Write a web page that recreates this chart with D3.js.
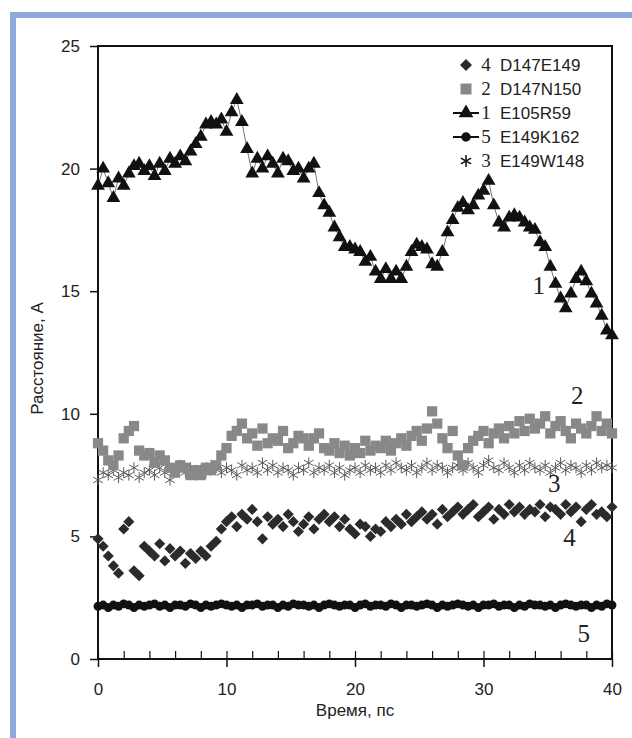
<!DOCTYPE html>
<html>
<head>
<meta charset="utf-8">
<script src="https://cdn.jsdelivr.net/npm/d3@7"></script>
<style>
  body { margin: 0; background: #fff; }
  svg { display: block; }
  .tick-label { font-family: "Liberation Sans", Arial, sans-serif; font-size: 17px; fill: #222; }
  .axis-title { font-family: "Liberation Sans", Arial, sans-serif; font-size: 17px; fill: #222; }
  .num { font-family: "Liberation Serif", "Times New Roman", serif; fill: #222; }
</style>
</head>
<body>
<svg id="chart" width="632" height="738"></svg>
<script>
// distance (A) sampled every 0.4 ps from 0 to 40
const timeStart = 0;
const timeEnd = 40;

const e105r59 = [
  19.3, 20.0, 19.4, 18.8, 19.6, 19.3, 19.8, 20.1, 20.2, 19.9,
  20.1, 19.7, 20.2, 19.9, 20.4, 20.2, 20.5, 20.3, 20.7, 21.0,
  21.3, 21.8, 21.9, 21.8, 22.0, 21.5, 22.3, 22.8, 21.9, 20.8,
  19.8, 20.4, 20.0, 20.5, 20.2, 19.8, 20.4, 20.3, 19.9, 20.0,
  19.6, 20.0, 20.2, 19.0, 18.5, 18.2, 17.6, 17.2, 16.8, 16.8,
  16.7, 16.6, 16.2, 16.4, 15.8, 15.5, 15.9, 15.5, 15.8, 15.5,
  16.0, 16.6, 16.9, 16.8, 16.7, 16.1, 16.0, 16.6, 17.4, 17.9,
  18.4, 18.6, 18.3, 18.5, 18.9, 19.1, 19.5, 18.5, 17.8, 17.6,
  18.0, 18.1, 18.0, 17.8, 17.6, 17.5, 17.0, 16.8, 16.0, 15.3,
  14.7, 14.3, 14.9, 15.5, 15.8, 15.4, 14.9, 14.5, 14.0, 13.4,
  13.2
];

const d147n150 = [
  8.8, 8.5, 8.1, 7.9, 8.3, 9.0, 9.3, 9.5, 8.5, 8.3,
  8.4, 8.0, 8.3, 8.1, 7.8, 7.6, 7.9, 7.8, 7.5, 7.7,
  7.5, 7.8, 7.7, 7.9, 8.3, 8.6, 9.1, 9.3, 9.6, 9.0,
  9.2, 8.7, 9.4, 8.8, 9.0, 8.9, 9.3, 8.6, 8.8, 9.1,
  9.0, 8.7, 9.0, 9.2, 8.6, 8.5, 8.8, 8.4, 8.7, 8.3,
  8.6, 8.4, 8.9, 8.5, 8.7, 8.6, 8.9, 8.5, 8.8, 9.0,
  8.7, 9.1, 9.3, 8.9, 9.4, 10.1, 9.6, 9.0, 8.6, 9.3,
  8.3, 7.9, 8.6, 8.9, 9.1, 9.3, 8.8, 9.2, 9.4, 9.0,
  9.5, 9.2, 9.7, 9.3, 9.8, 9.4, 9.6, 9.9, 9.2, 9.5,
  9.7, 9.3, 9.0, 9.6, 9.4, 9.2, 9.5, 9.9, 9.3, 9.6,
  9.2
];

const e149w148 = [
  7.3, 7.6, 7.5, 7.7, 7.4, 7.6, 7.5, 7.8, 7.4, 7.6,
  7.7, 7.5, 7.8, 7.6, 7.3, 7.7, 7.9, 7.6, 7.8, 7.5,
  7.7, 7.6, 7.9, 7.8, 7.6, 7.8, 7.7, 7.5, 7.9, 7.7,
  7.8, 7.6, 8.0, 7.7, 7.9, 7.6, 7.8, 7.7, 7.5, 7.8,
  7.7, 8.0, 7.6, 7.8, 7.7, 7.9, 7.6, 7.8, 7.5, 7.7,
  7.8, 7.6, 7.9, 7.7, 7.8, 7.6, 7.9, 7.7, 8.0, 7.8,
  7.7, 7.9, 7.6, 7.8, 8.0, 7.7, 7.9, 7.8, 7.6, 7.8,
  7.9, 7.7, 8.0, 7.8, 7.6, 7.9, 8.1, 7.8, 7.7, 8.0,
  7.8, 7.6, 7.9, 7.7, 8.0, 7.8, 7.7, 7.9, 7.6, 7.8,
  8.0, 7.7, 7.9, 7.8, 7.6, 7.9, 7.7, 8.0, 7.8, 7.9,
  7.8
];

const d147e149 = [
  4.9, 4.6, 4.2, 3.8, 3.5, 5.3, 5.6, 3.6, 3.4, 4.6,
  4.4, 4.2, 4.7, 4.0, 4.5, 4.2, 4.4, 3.9, 4.3, 4.1,
  4.4, 4.2, 4.6, 4.8, 5.3, 5.6, 5.8, 5.4, 5.9, 5.7,
  6.1, 5.6, 4.9, 5.8, 5.5, 5.7, 5.4, 5.9, 5.6, 5.2,
  5.5, 5.8, 5.3, 5.7, 5.9, 5.6, 5.8, 5.4, 5.7, 5.3,
  5.1, 5.5, 5.4, 5.0, 5.3, 5.2, 5.6, 5.4, 5.7, 5.5,
  5.9, 5.6, 5.8, 6.0, 5.7, 5.9, 5.5, 6.1, 5.8, 6.0,
  6.2, 5.9, 6.1, 6.3, 5.8, 6.0, 6.2, 5.7, 6.1, 5.9,
  6.3, 6.0, 6.2, 5.9, 6.1, 6.0, 6.3, 5.8, 6.2, 6.1,
  5.9, 6.3, 6.0, 6.2, 5.6, 6.1, 6.3, 5.9, 6.0, 5.8,
  6.2
];

const e149k162 = [
  2.15, 2.2, 2.1, 2.2, 2.15, 2.25, 2.2, 2.1, 2.2, 2.15,
  2.2, 2.25, 2.15, 2.2, 2.1, 2.2, 2.2, 2.15, 2.25, 2.2,
  2.1, 2.2, 2.15, 2.2, 2.25, 2.2, 2.15, 2.2, 2.1, 2.2,
  2.2, 2.25, 2.15, 2.2, 2.2, 2.1, 2.2, 2.15, 2.25, 2.2,
  2.2, 2.15, 2.2, 2.1, 2.2, 2.25, 2.2, 2.15, 2.2, 2.2,
  2.1, 2.2, 2.25, 2.15, 2.2, 2.2, 2.15, 2.25, 2.2, 2.1,
  2.2, 2.2, 2.15, 2.2, 2.25, 2.2, 2.1, 2.2, 2.15, 2.2,
  2.25, 2.2, 2.15, 2.2, 2.1, 2.2, 2.2, 2.25, 2.15, 2.2,
  2.2, 2.1, 2.2, 2.15, 2.25, 2.2, 2.2, 2.15, 2.2, 2.1,
  2.2, 2.25, 2.2, 2.15, 2.2, 2.2, 2.1, 2.2, 2.15, 2.25,
  2.2
];

const legendNumbers = ["4", "2", "1", "5", "3"];
const legendNames = ["D147E149", "D147N150", "E105R59", "E149K162", "E149W148"];
const yTicks = [0, 5, 10, 15, 20, 25];
const xMajorTicks = [0, 10, 20, 30, 40];
const xMinorTicks = [2, 4, 6, 8, 12, 14, 16, 18, 22, 24, 26, 28, 32, 34, 36, 38];
const curveLabels = ["1", "2", "3", "4", "5"];
const curveLabelAt = [[34.3, 14.9], [37.3, 10.4], [35.5, 6.8], [36.7, 4.6], [37.8, 0.7]];

const margin = { left: 98, top: 46, right: 20, bottom: 79 };
const width = 632 - margin.left - margin.right;
const height = 738 - margin.top - margin.bottom;

const svg = d3.select("#chart");

// blue frame
svg.append("rect").attr("x", 10).attr("y", 12).attr("width", 622).attr("height", 6).attr("fill", "#8eaada");
svg.append("rect").attr("x", 10).attr("y", 12).attr("width", 6).attr("height", 726).attr("fill", "#8eaada");

const x = d3.scaleLinear().domain([timeStart, timeEnd]).range([0, width]);
const y = d3.scaleLinear().domain([0, 25]).range([height, 0]);

const g = svg.append("g").attr("transform", `translate(${margin.left},${margin.top})`);

const toPoints = values => values.map((v, i) => [timeStart + i * (timeEnd - timeStart) / (values.length - 1), v]);

// y axis
const yAxis = d3.axisLeft(y).tickValues(yTicks).tickSize(8).tickPadding(10);
const yg = g.append("g").call(yAxis);
yg.select(".domain").remove();
yg.selectAll("line").attr("stroke", "#111").attr("stroke-width", 1.5);
yg.selectAll("text").attr("class", "tick-label").attr("font-size", null).attr("font-family", null);

// x axis: major ticks below, minor ticks inside
const xg = g.append("g").attr("transform", `translate(0,${height})`)
  .call(d3.axisBottom(x).tickValues(xMajorTicks).tickSize(8).tickPadding(16));
xg.select(".domain").remove();
xg.selectAll("line").attr("stroke", "#111").attr("stroke-width", 1.5);
xg.selectAll("text").attr("class", "tick-label").attr("font-size", null).attr("font-family", null);
g.append("g").attr("transform", `translate(0,${height})`)
  .call(d3.axisTop(x).tickValues(xMinorTicks.concat(xMajorTicks)).tickSize(8).tickFormat(""))
  .call(a => a.select(".domain").remove())
  .selectAll("line").attr("stroke", "#111").attr("stroke-width", 1.2);

// frame of plot
g.append("rect").attr("width", width).attr("height", height)
  .attr("fill", "none").attr("stroke", "#111").attr("stroke-width", 2);

g.append("text").attr("class", "axis-title").attr("x", width / 2).attr("y", height + 57)
  .attr("text-anchor", "middle").text("Время, пс");
g.append("text").attr("class", "axis-title").attr("transform", "rotate(-90)")
  .attr("x", -height / 2 - 6).attr("y", -55).attr("text-anchor", "middle").text("Расстояние, А");

const line = d3.line().x(d => x(d[0])).y(d => y(d[1]));

const styles = {
  diamond: { type: d3.symbolSquare, size: 62, fill: "#2b2b2b", rotate: 45 },
  square: { type: d3.symbolSquare, size: 105, fill: "#888", rotate: 0 },
  triangle: { type: d3.symbolTriangle, size: 82, fill: "#111", rotate: 0 },
  circle: { type: d3.symbolCircle, size: 62, fill: "#111", rotate: 0 },
  star: { type: d3.symbolAsterisk, size: 85, fill: "none", stroke: "#5a5a5a", rotate: 0 }
};

const drawSeries = (values, style, withLine) => {
  const pts = toPoints(values);
  if (withLine) {
    g.append("path").datum(pts).attr("d", line)
      .attr("fill", "none").attr("stroke", "#777").attr("stroke-width", 1);
  }
  g.append("g").selectAll("path").data(pts).join("path")
    .attr("d", d3.symbol(style.type, style.size))
    .attr("transform", d => `translate(${x(d[0])},${y(d[1])}) rotate(${style.rotate})`)
    .attr("fill", style.fill)
    .attr("stroke", style.stroke || "none")
    .attr("stroke-width", 1);
};

drawSeries(e149k162, styles.circle, true);
drawSeries(e149w148, styles.star, false);
drawSeries(d147n150, styles.square, false);
drawSeries(d147e149, styles.diamond, false);
drawSeries(e105r59, styles.triangle, true);

// curve numbers
g.selectAll(".curve-num").data(curveLabels).join("text")
  .attr("class", "num").attr("font-size", 25)
  .attr("x", (d, i) => x(curveLabelAt[i][0])).attr("y", (d, i) => y(curveLabelAt[i][1]))
  .attr("text-anchor", "middle").text(d => d);

// legend
const legendStyles = [styles.diamond, styles.square, styles.triangle, styles.circle, styles.star];
const legendLines = [false, false, true, true, false];
const legend = svg.append("g").attr("transform", "translate(466,65)");
legendNames.forEach((name, i) => {
  const row = legend.append("g").attr("transform", `translate(0,${i * 24})`);
  if (legendLines[i]) {
    row.append("line").attr("x1", -13).attr("x2", 13).attr("stroke", "#111").attr("stroke-width", 2);
  }
  const st = legendStyles[i];
  row.append("path").attr("d", d3.symbol(st.type, st.size * 1.15)).attr("transform", `rotate(${st.rotate})`)
    .attr("fill", st.fill).attr("stroke", st.stroke ? "#111" : "none").attr("stroke-width", 1.5);
  row.append("text").attr("class", "num").attr("font-size", 19).attr("x", 20).attr("y", 6)
    .attr("text-anchor", "middle").text(legendNumbers[i]);
  row.append("text").attr("class", "tick-label").attr("x", 34).attr("y", 6).text(name);
});
</script>
</body>
</html>
